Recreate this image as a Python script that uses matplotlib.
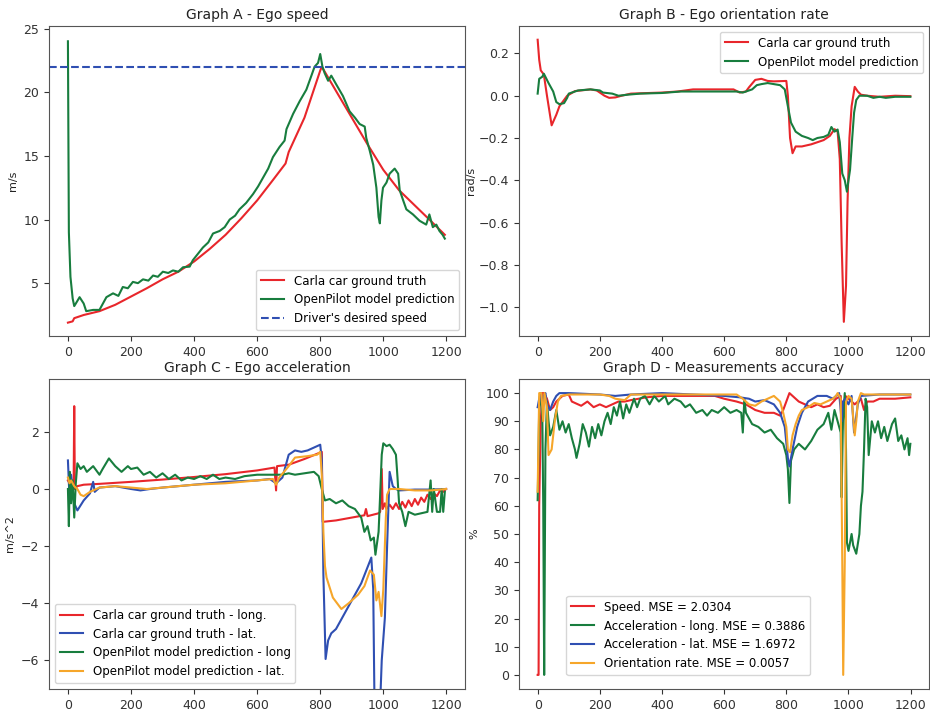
"""Ego speed / orientation rate / acceleration / accuracy comparison, Carla vs OpenPilot."""

import matplotlib

matplotlib.use("Agg")
import matplotlib.pyplot as plt


# Graph A - ego speed (m/s)
SPEED_TRUTH_X = [0, 15, 20, 50, 100, 150, 200, 250, 300, 350, 400, 450, 500, 550, 600, 650, 690, 700, 750, 800,
                 805, 850, 900, 950, 1000, 1050, 1100, 1150, 1195]
SPEED_TRUTH_Y = [1.9, 2.0, 2.25, 2.5, 2.8, 3.3, 3.95, 4.6, 5.3, 5.9, 6.7, 7.7, 8.8, 10.1, 11.5, 13.1, 14.4, 15.3, 18.0, 21.7,
                 22.0, 20.1, 18.0, 15.9, 13.9, 12.3, 11.1, 9.9, 8.8]
SPEED_PRED_X = [0, 3, 8, 15, 20, 25, 37, 50, 58, 80, 100, 122, 143, 160, 174, 190, 206, 222, 238, 255,
                270, 285, 301, 318, 333, 350, 365, 386, 396, 412, 428, 445, 460, 481, 497, 513, 530, 544, 565, 587,
                603, 619, 635, 650, 671, 687, 693, 714, 735, 756, 772, 782, 793, 800, 807, 814, 825, 835, 851, 872,
                893, 910, 925, 941, 946, 957, 968, 978, 985, 989, 994, 999, 1010, 1020, 1036, 1047, 1052, 1063, 1073, 1094,
                1115, 1136, 1146, 1157, 1168, 1178, 1188, 1195]
SPEED_PRED_Y = [24.0, 9.0, 5.5, 3.8, 3.2, 3.4, 3.9, 3.4, 2.8, 2.9, 2.9, 3.9, 4.2, 4.0, 4.7, 4.6, 5.1, 5.0, 5.3, 5.2,
                5.6, 5.5, 5.9, 5.8, 6.0, 5.9, 6.25, 6.3, 6.8, 7.3, 7.8, 8.2, 8.9, 9.1, 9.4, 10.0, 10.3, 10.8, 11.3, 12.0,
                12.6, 13.3, 14.0, 14.9, 15.7, 16.2, 17.1, 18.3, 19.3, 20.2, 21.3, 22.0, 22.3, 23.0, 22.0, 21.5, 20.9, 21.3, 20.6, 19.7,
                18.5, 18.0, 17.5, 17.3, 16.4, 15.4, 14.3, 12.5, 10.2, 9.7, 11.5, 12.5, 12.9, 13.6, 14.0, 13.6, 12.3, 11.5, 10.8, 10.4,
                9.9, 9.6, 10.4, 9.4, 9.6, 9.1, 8.8, 8.5]
DESIRED_SPEED = 22.0

# Graph B - ego orientation rate (rad/s)
RATE_TRUTH_X = [0, 5, 10, 20, 30, 45, 60, 70, 95, 120, 170, 190, 215, 230, 250, 270, 300, 400, 450, 500,
                600, 630, 650, 670, 680, 700, 720, 740, 760, 800, 805, 812, 820, 830, 850, 880, 920, 940, 955, 965,
                972, 978, 985, 992, 997, 1003, 1010, 1020, 1030, 1040, 1060, 1100, 1150, 1199]
RATE_TRUTH_Y = [0.265, 0.17, 0.12, 0.10, 0.0, -0.14, -0.09, -0.05, 0.0, 0.022, 0.03, 0.025, 0.0, -0.01, -0.008, 0.0, 0.01, 0.015, 0.02, 0.03,
                0.03, 0.03, 0.015, 0.02, 0.04, 0.075, 0.08, 0.07, 0.068, 0.07, 0.0, -0.2, -0.272, -0.24, -0.24, -0.23, -0.21, -0.19, -0.158, -0.17,
                -0.3, -0.7, -1.07, -0.9, -0.5, -0.2, -0.05, 0.042, 0.02, 0.005, 0.0, -0.005, 0.0, -0.002]
RATE_PRED_X = [0, 5, 15, 20, 35, 50, 60, 70, 85, 95, 100, 130, 170, 200, 210, 240, 260, 290, 330, 400,
               460, 500, 600, 640, 660, 670, 690, 705, 720, 740, 760, 780, 795, 805, 815, 830, 850, 870, 885, 900,
               920, 935, 945, 955, 965, 972, 980, 988, 995, 1000, 1005, 1012, 1018, 1025, 1035, 1060, 1080, 1100, 1120, 1150,
               1199]
RATE_PRED_Y = [0.01, 0.08, 0.09, 0.104, 0.06, 0.02, -0.03, -0.04, -0.035, -0.01, 0.01, 0.025, 0.03, 0.025, 0.015, 0.01, 0.0, 0.005, 0.01, 0.013,
               0.02, 0.02, 0.02, 0.02, 0.015, 0.02, 0.03, 0.05, 0.055, 0.06, 0.055, 0.05, 0.03, -0.05, -0.127, -0.17, -0.19, -0.2, -0.21, -0.2,
               -0.195, -0.185, -0.148, -0.17, -0.16, -0.22, -0.368, -0.4, -0.454, -0.4, -0.35, -0.2, -0.08, -0.02, 0.0, 0.0, -0.01, -0.005, -0.01, -0.005,
               -0.005]

# Graph C - ego acceleration (m/s^2)
ACC_LONG_TRUTH_X = [0, 10, 18, 20, 22, 30, 50, 100, 200, 300, 400, 500, 600, 655, 660, 663, 700, 750, 805, 808,
                    850, 900, 940, 945, 950, 985, 990, 995, 998, 1005, 1010, 1020, 1030, 1040, 1050, 1060, 1070, 1080, 1090, 1100,
                    1110, 1120, 1130, 1140, 1150, 1160, 1170, 1180, 1190, 1199]
ACC_LONG_TRUTH_Y = [0.3, 0.1, 0.0, 2.9, 0.0, 0.1, 0.15, 0.18, 0.25, 0.33, 0.42, 0.52, 0.65, 0.75, -0.05, 0.8, 0.85, 1.05, 1.3, -1.15,
                    -1.1, -1.0, -0.92, -0.7, -0.95, -0.85, -0.8, 0.7, -0.7, -0.5, -0.7, -0.55, -0.7, -0.5, -0.7, -0.45, -0.65, -0.4, -0.6, -0.35,
                    -0.55, -0.3, -0.45, -0.2, -0.35, -0.15, -0.25, -0.05, -0.1, 0.0]
ACC_LAT_TRUTH_X = [0, 5, 10, 15, 20, 30, 50, 70, 80, 85, 100, 150, 200, 230, 260, 300, 400, 500, 600, 640,
                   660, 680, 700, 720, 740, 760, 790, 800, 805, 810, 817, 825, 835, 850, 870, 900, 930, 962, 968, 972,
                   990, 995, 1005, 1012, 1020, 1030, 1040, 1050, 1100, 1150, 1199]
ACC_LAT_TRUTH_Y = [1.0, -0.3, 0.5, 0.0, -0.5, -0.75, -0.4, -0.15, 0.25, -0.1, 0.05, 0.1, 0.0, -0.05, 0.0, 0.05, 0.15, 0.25, 0.3, 0.35,
                   0.2, 0.4, 1.2, 1.35, 1.3, 1.35, 1.5, 1.55, 1.0, -3.0, -5.95, -5.3, -5.05, -4.9, -4.5, -3.9, -3.3, -2.4, -3.5, -7.5,
                   -7.5, -6.0, -4.5, -2.0, 0.6, 0.1, 0.0, -0.05, -0.02, -0.02, 0.0]
ACC_LONG_PRED_X = [0, 3, 6, 10, 15, 20, 25, 30, 40, 50, 60, 80, 100, 110, 130, 150, 170, 190, 200, 220,
                   240, 260, 280, 300, 320, 340, 360, 380, 400, 420, 440, 460, 480, 500, 530, 560, 600, 640, 680, 700,
                   720, 750, 780, 795, 805, 815, 830, 850, 870, 890, 910, 930, 940, 950, 960, 970, 975, 985, 990, 995,
                   1000, 1010, 1020, 1030, 1040, 1045, 1050, 1060, 1070, 1080, 1100, 1120, 1140, 1150, 1155, 1160, 1170, 1180, 1185, 1190,
                   1195]
ACC_LONG_PRED_Y = [0.0, -1.3, 0.6, -0.5, 0.3, -1.0, 0.2, 0.9, 0.7, 0.8, 0.6, 0.8, 0.5, 0.7, 1.07, 0.8, 0.6, 0.8, 0.7, 0.75,
                   0.5, 0.6, 0.4, 0.55, 0.35, 0.5, 0.3, 0.4, 0.35, 0.45, 0.35, 0.5, 0.35, 0.4, 0.35, 0.45, 0.5, 0.5, 0.5, 0.55,
                   0.5, 0.55, 0.6, 0.45, 0.0, -0.4, -0.35, -0.5, -0.4, -0.6, -0.7, -1.0, -1.5, -1.3, -1.8, -1.7, -2.3, -1.5, -0.2, 1.2,
                   1.6, 1.5, 1.55, 1.4, 1.2, 0.4, -0.5, -0.8, -1.3, -0.8, -0.9, -0.85, -0.8, 0.3, -0.8, 0.0, -0.8, -0.8, 0.0, -0.8,
                   -0.1]
ACC_LAT_PRED_X = [0, 5, 10, 20, 30, 40, 50, 70, 100, 150, 200, 250, 300, 400, 500, 600, 650, 660, 670, 700,
                  720, 760, 790, 800, 805, 810, 815, 820, 840, 867, 890, 920, 940, 958, 970, 978, 985, 994, 1000, 1008,
                  1012, 1020, 1050, 1100, 1150, 1199]
ACC_LAT_PRED_Y = [0.4, 0.2, 0.3, 0.1, 0.0, -0.2, -0.25, -0.1, 0.05, 0.1, 0.05, 0.0, 0.05, 0.15, 0.2, 0.3, 0.35, 0.15, 0.4, 0.8,
                  1.1, 1.15, 1.2, 1.3, 0.5, -1.5, -2.7, -3.1, -3.8, -4.2, -4.0, -3.7, -3.4, -2.85, -3.0, -3.9, -3.6, -4.45, -3.5, -1.0,
                  -0.2, 0.0, 0.0, -0.05, -0.05, 0.0]

# Graph D - measurement accuracy (%)
ACC_SPEED_X = [0, 3, 5, 10, 15, 20, 30, 40, 50, 60, 70, 80, 100, 110, 130, 140, 160, 180, 200, 220,
               240, 260, 280, 300, 350, 400, 500, 570, 600, 640, 670, 700, 730, 760, 780, 790, 800, 810, 820, 840,
               860, 880, 900, 920, 940, 960, 975, 980, 985, 990, 1000, 1020, 1040, 1050, 1060, 1080, 1100, 1150, 1199]
ACC_SPEED_Y = [0, 0, 60, 90, 100, 100, 98, 94, 95, 97, 98, 99, 99.5, 97, 96, 95.5, 97, 95, 96, 95,
               96, 97, 97, 97.5, 98.5, 99, 99, 99, 98, 97, 96, 94, 93, 93, 92, 94, 97, 100, 99, 97,
               96, 95, 96, 95, 95.5, 98, 99, 87, 95, 99, 98, 96, 98, 94, 97, 97, 98, 98, 98.5]
ACC_LONG_X = [0, 3, 5, 10, 15, 18, 21, 25, 30, 35, 40, 50, 60, 70, 80, 90, 100, 110, 120, 125,
              135, 145, 155, 165, 175, 185, 195, 205, 215, 225, 235, 245, 255, 265, 275, 285, 295, 310, 320, 330,
              345, 360, 375, 390, 410, 420, 440, 460, 475, 490, 510, 530, 545, 560, 580, 600, 620, 640, 655, 660,
              665, 670, 690, 710, 730, 750, 770, 790, 800, 805, 810, 815, 825, 840, 860, 880, 900, 920, 935, 945,
              955, 965, 975, 978, 982, 988, 992, 995, 1000, 1010, 1015, 1025, 1035, 1040, 1045, 1050, 1055, 1060, 1065, 1075,
              1085, 1095, 1105, 1115, 1125, 1140, 1150, 1160, 1170, 1180, 1190, 1195, 1199]
ACC_LONG_Y = [62, 80, 95, 100, 92, 60, 0, 80, 97, 90, 85, 88, 94, 87, 90, 86, 89, 84, 80, 77,
              82, 89, 86, 81, 88, 84, 89, 85, 90, 93, 89, 95, 92, 97, 91, 96, 93, 98, 95, 98,
              99, 96, 99, 97, 99, 96, 98, 97, 95, 96, 93, 94, 92, 94, 93, 95, 93, 94, 93, 86,
              98, 93, 89, 88, 86, 87, 84, 82, 78, 73, 61, 76, 80, 82, 80, 83, 87, 89, 93, 87,
              94, 90, 86, 63, 90, 100, 80, 47, 44, 50, 46, 43, 50, 60, 65, 80, 98, 95, 78, 90,
              86, 90, 84, 88, 83, 89, 91, 83, 85, 80, 84, 78, 82]
ACC_LAT_X = [0, 5, 10, 15, 20, 25, 30, 40, 50, 60, 70, 100, 200, 250, 300, 400, 500, 600, 650, 680,
             700, 730, 760, 780, 795, 805, 810, 820, 835, 850, 870, 900, 930, 950, 960, 970, 978, 982, 990, 1000,
             1010, 1018, 1030, 1040, 1100, 1199]
ACC_LAT_Y = [95, 98, 100, 95, 99, 100, 96, 94, 97, 99, 100, 100, 99.5, 99, 99.5, 100, 99.5, 99, 98.5, 98,
             97, 97.5, 96, 93, 88, 77, 74, 80, 88, 93, 97, 99, 99, 98, 99, 100, 90, 97, 98, 96,
             99, 86, 96, 99, 99.5, 99.5]
ACC_ORIENT_X = [0, 5, 12, 18, 22, 30, 35, 45, 55, 65, 75, 100, 150, 200, 230, 250, 280, 300, 400, 500,
                600, 640, 660, 680, 700, 720, 740, 760, 780, 790, 800, 805, 812, 820, 830, 840, 850, 870, 890, 910,
                930, 950, 960, 965, 970, 975, 980, 983, 988, 992, 1000, 1010, 1020, 1025, 1030, 1040, 1050, 1100, 1150, 1199]
ACC_ORIENT_Y = [65, 100, 100, 90, 100, 95, 78, 80, 90, 97, 99, 99.5, 99.5, 99.5, 99, 98, 97.5, 99.5, 99.5, 99.5,
                99.5, 99.5, 98, 96, 95.5, 97, 98, 99, 97, 93, 88, 80, 79, 85, 89, 92, 94, 95, 96.5, 96,
                97, 98, 99, 100, 99, 98, 40, 0, 40, 97, 99, 98, 85, 90, 97, 100, 99.5, 99.5, 99.5, 99.5]
MSE_LABELS = [
    "Speed. MSE = 2.0304",
    "Acceleration - long. MSE = 0.3886",
    "Acceleration - lat. MSE = 1.6972",
    "Orientation rate. MSE = 0.0057",
]

RED = "#e8262b"
GREEN = "#187d3e"
BLUE = "#2f4fb2"
ORANGE = "#f6a62a"
LW = 1.5


def _style(ax, title, ylabel, labelpad=4):
    ax.set_title(title, fontsize=10, color="#222222", pad=5)
    ax.set_ylabel(ylabel, fontsize=8, color="#222222", labelpad=labelpad)
    ax.set_xlim(-60, 1259)
    ax.set_xticks([0, 200, 400, 600, 800, 1000, 1200])
    ax.tick_params(labelsize=9, colors="#333333", length=3.5)
    for spine in ax.spines.values():
        spine.set_color("#555555")


def main() -> None:
    fig = plt.figure(figsize=(9.3, 7.11), dpi=100)
    W, H = 930.0, 711.0
    ax_a = fig.add_axes([49 / W, 1 - 336 / H, 416 / W, 310 / H])
    ax_b = fig.add_axes([519 / W, 1 - 336 / H, 410 / W, 310 / H])
    ax_c = fig.add_axes([49 / W, 1 - 689 / H, 416 / W, 310 / H])
    ax_d = fig.add_axes([519 / W, 1 - 689 / H, 410 / W, 310 / H])

    # Graph A
    ax_a.plot(SPEED_TRUTH_X, SPEED_TRUTH_Y, color=RED, lw=LW, label="Carla car ground truth")
    ax_a.plot(SPEED_PRED_X, SPEED_PRED_Y, color=GREEN, lw=LW, label="OpenPilot model prediction")
    ax_a.axhline(DESIRED_SPEED, color=BLUE, lw=LW, ls="--", label="Driver's desired speed")
    _style(ax_a, "Graph A - Ego speed", "m/s")
    ax_a.set_ylim(0.85, 25.2)
    ax_a.set_yticks([5, 10, 15, 20, 25])
    ax_a.legend(loc="lower right", fontsize=8.5)

    # Graph B
    ax_b.plot(RATE_TRUTH_X, RATE_TRUTH_Y, color=RED, lw=LW, label="Carla car ground truth")
    ax_b.plot(RATE_PRED_X, RATE_PRED_Y, color=GREEN, lw=LW, label="OpenPilot model prediction")
    _style(ax_b, "Graph B - Ego orientation rate", "rad/s", labelpad=2)
    ax_b.set_ylim(-1.137, 0.33)
    ax_b.legend(loc="upper right", fontsize=8.5)

    # Graph C
    ax_c.plot(ACC_LONG_TRUTH_X, ACC_LONG_TRUTH_Y, color=RED, lw=LW, label="Carla car ground truth - long.")
    ax_c.plot(ACC_LAT_TRUTH_X, ACC_LAT_TRUTH_Y, color=BLUE, lw=LW, label="Carla car ground truth - lat.")
    ax_c.plot(ACC_LONG_PRED_X, ACC_LONG_PRED_Y, color=GREEN, lw=LW, label="OpenPilot model prediction - long")
    ax_c.plot(ACC_LAT_PRED_X, ACC_LAT_PRED_Y, color=ORANGE, lw=LW, label="OpenPilot model prediction - lat.")
    _style(ax_c, "Graph C - Ego acceleration", "m/s^2")
    ax_c.set_ylim(-7.0, 3.85)
    ax_c.set_yticks([-6, -4, -2, 0, 2])
    ax_c.legend(loc="lower left", fontsize=8.5)

    # Graph D
    ax_d.plot(ACC_SPEED_X, ACC_SPEED_Y, color=RED, lw=LW, label=MSE_LABELS[0])
    ax_d.plot(ACC_LONG_X, ACC_LONG_Y, color=GREEN, lw=LW, label=MSE_LABELS[1])
    ax_d.plot(ACC_LAT_X, ACC_LAT_Y, color=BLUE, lw=LW, label=MSE_LABELS[2])
    ax_d.plot(ACC_ORIENT_X, ACC_ORIENT_Y, color=ORANGE, lw=LW, label=MSE_LABELS[3])
    _style(ax_d, "Graph D - Measurements accuracy", "%")
    ax_d.set_ylim(-5, 105)
    ax_d.set_yticks(range(0, 101, 10))
    ax_d.legend(loc="lower left", bbox_to_anchor=(0.115, 0.045), borderaxespad=0, fontsize=8.5)

    fig.savefig("out.png", dpi=100)
    plt.close(fig)


if __name__ == "__main__":
    main()
